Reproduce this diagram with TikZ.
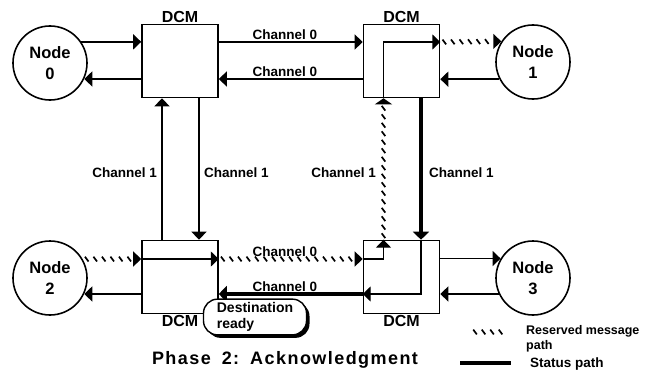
\documentclass[tikz,border=0pt]{standalone}
\usepackage{fontspec}
\setmainfont{Liberation Sans}
\newfontfamily\titlefont[LetterSpace=8]{Liberation Sans}
\usetikzlibrary{arrows.meta,calc,decorations.markings,shadows}
\begin{document}
\begin{tikzpicture}[x=1pt,y=-1pt,
  thinline/.style={line width=1.4pt},
  arr/.style={thinline,-{Triangle[length=8pt,width=15pt]}},
  tarr/.style={thinline,-{Triangle[length=6pt,width=17pt]}},
  statusline/.style={line width=4pt},
  dcm/.style={draw,line width=1.6pt,rectangle,minimum width=76pt,minimum height=73pt,inner sep=0pt},
  pe/.style={draw,line width=1.6pt,circle,minimum size=74pt,inner sep=0pt,align=center,font=\fontsize{16.5}{21}\selectfont\bfseries},
  lbl/.style={font=\fontsize{13.5}{15}\selectfont\bfseries,inner sep=1pt},
  dcmlbl/.style={font=\fontsize{16}{17}\selectfont\bfseries,inner sep=0.5pt},
  hatch/.style={postaction={decorate},decoration={markings,
    mark=between positions 4pt and -9pt step 8.5pt with {\pgftransformresetnontranslations
      \draw[line width=1.7pt] (-1.8pt,2.4pt) -- (1.8pt,-2.4pt);}}}
]
\useasboundingbox (0,0) rectangle (646,372);
% rows and columns
\coordinate (r1) at (0,42);
\coordinate (r2) at (0,79);
\coordinate (r3) at (0,259);
\coordinate (r4) at (0,294);
\coordinate (c1) at (162,0);
\coordinate (c2) at (199,0);
\coordinate (c3) at (383.5,0);
\coordinate (c4) at (421,0);
% DCM boxes
\node[dcm] (d0) at (180,61) {};
\node[dcm] (d1) at (401.5,61) {};
\node[dcm] (d2) at (180,277) {};
\node[dcm] (d3) at (401.5,277) {};
\node[dcmlbl,anchor=south] (l0) at (d0.north) {DCM};
\node[dcmlbl,anchor=south] (l1) at (d1.north) {DCM};
\node[dcmlbl,anchor=north] (l2) at (d2.south) {DCM};
\node[dcmlbl,anchor=north] (l3) at (d3.south) {DCM};
% processing nodes
\node[pe] (n0) at (50,63) {Node\\0};
\node[pe] (n1) at (533,62) {Node\\1};
\node[pe] (n2) at (50,278) {Node\\2};
\node[pe] (n3) at (533,278) {Node\\3};
% node <-> DCM links
\draw[arr] (n0.34.6) -- (n0.34.6 -| d0.west);
\draw[arr] (d0.west |- n0.-25.6) -- (n0.-25.6);
\draw[arr] (n1.207.4) -- (n1.207.4 -| d1.east);
\draw[arr] (d2.west |- n2.-25.6) -- (n2.-25.6);
\draw[arr] (d3.east |- n3.149.1) -- (n3.149.1);
\draw[arr] (n3.205.6) -- (n3.205.6 -| d3.east);
% channel 0 links
\draw[arr] (d0.east |- r1) -- (d1.west |- r1);
\draw[arr] (d1.west |- r2) -- (d0.east |- r2);
\node[lbl,anchor=south] (ch0a) at (285,41) {Channel 0};
\node[lbl,anchor=south] (ch0b) at (285,78) {Channel 0};
\node[lbl,anchor=south] (ch0c) at (285,258) {Channel 0};
\node[lbl,anchor=south] (ch0d) at (285,293) {Channel 0};
% channel 1 links
\draw[arr] (d2.north -| c1) -- (d0.south -| c1);
\draw[arr] (d0.south -| c2) -- (d2.north -| c2);
\node[lbl,anchor=east] (ch1a) at (158,173) {Channel 1};
\node[lbl,anchor=west] (ch1b) at (203,173) {Channel 1};
\node[lbl,anchor=east] (ch1c) at (377,173) {Channel 1};
\node[lbl,anchor=west] (ch1d) at (428,173) {Channel 1};
% reserved message path
\path[hatch] (n2.30.9) -- (d2.west |- r3);
\draw[arr] ($(d2.west |- r3)+(-1,0)$) -- (d2.west |- r3);
\draw[arr] (d2.west |- r3) -- (d2.east |- r3);
\path[hatch] (d2.east |- r3) -- (d3.west |- r3);
\draw[arr] ($(d3.west |- r3)+(-1,0)$) -- (d3.west |- r3);
\draw[arr] (d3.west |- r3) -| (d3.north -| c3);
\path[hatch] (d3.north -| c3) -- (d1.south -| c3);
\draw[tarr] ($(d1.south -| c3)+(0,1)$) -- (d1.south -| c3);
\draw[arr] (d1.south -| c3) |- (d1.east |- r1);
\path[hatch] (d1.east |- r1) -- (n1.147.3);
\draw[arr] ($(n1.147.3)+(-1,0)$) -- (n1.147.3);
% status path
\draw[statusline,-{Triangle[length=8pt,width=16pt]}] (d1.south -| c4) -- (d3.north -| c4);
\draw[arr] (d3.north -| c4) |- (d3.west |- r4);
\draw[statusline,-{Triangle[length=8pt,width=16pt]}] (d3.west |- r4) -- (d2.east |- r4);
% destination ready
\node[draw,fill=white,line width=1.4pt,rounded corners=14pt,minimum width=103pt,minimum height=34pt,
  general shadow={fill=black,shadow xshift=3pt,shadow yshift=-3pt},
  align=left,font=\fontsize{14}{16}\selectfont\bfseries] (dr) at (255,317) {Destination\\ready};
% title
\node[font=\titlefont\fontsize{18}{20}\selectfont\bfseries] (title) at (285,360) {Phase\hspace{11pt}2:\hspace{11pt}Acknowledgment};
% legend
\coordinate (lh1) at (471,332);
\coordinate (lh2) at (516,332);
\path[hatch] (lh1) -- (lh2);
\node[lbl,anchor=north west,align=left,font=\fontsize{12.5}{15.5}\selectfont\bfseries,inner sep=0pt] (leg1) at (526,325) {Reserved message\\path};
\coordinate (ls1) at (460,363);
\coordinate (ls2) at (511,363);
\draw[statusline] (ls1) -- (ls2);
\node[lbl,anchor=west,font=\fontsize{13.5}{15}\selectfont\bfseries] (leg2) at (529,364) {Status path};
\end{tikzpicture}
\end{document}
